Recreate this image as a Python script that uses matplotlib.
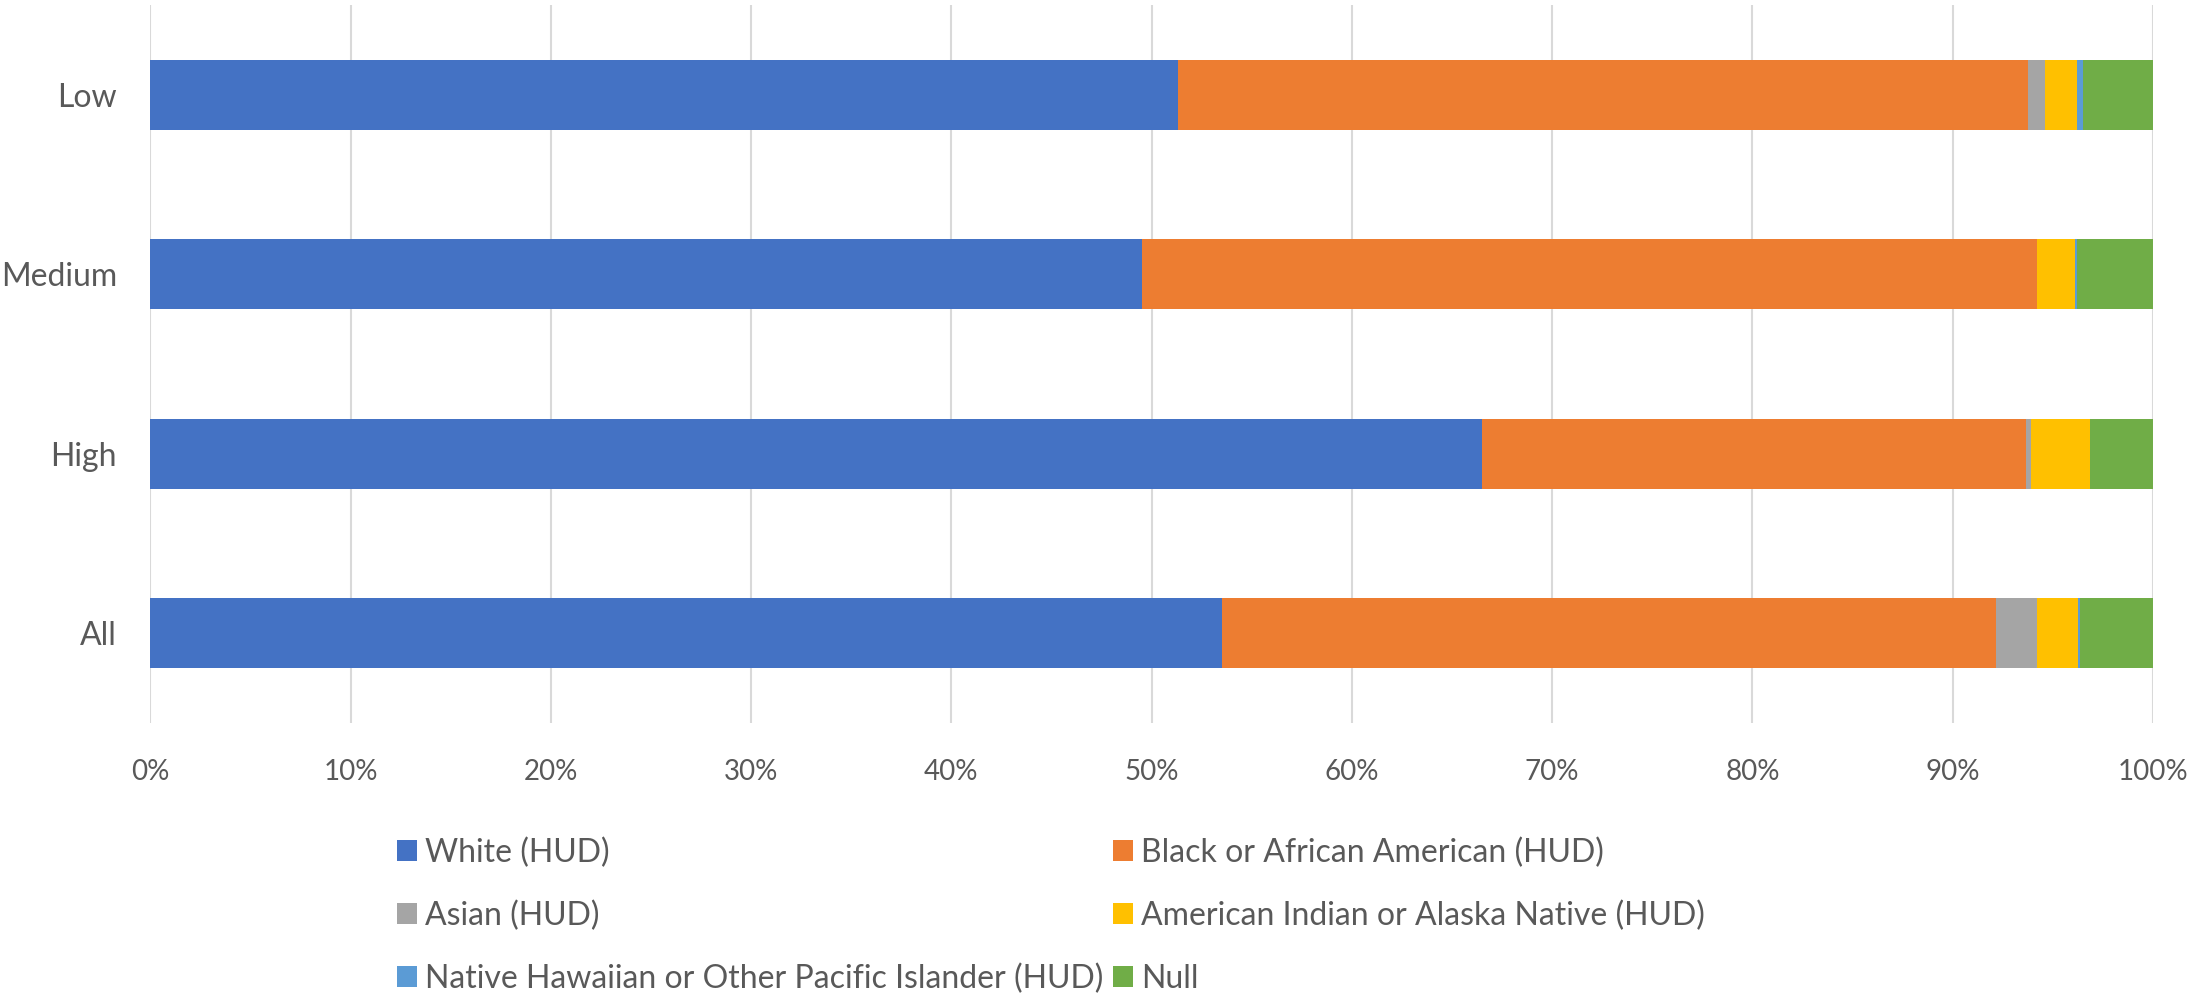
import matplotlib
matplotlib.use("Agg")
import matplotlib.pyplot as plt
from matplotlib.patches import Patch
import numpy as np

categories = ["Low", "Medium", "High", "All"]
series_names = [
    "White (HUD)",
    "Black or African American (HUD)",
    "Asian (HUD)",
    "American Indian or Alaska Native (HUD)",
    "Native Hawaiian or Other Pacific Islander (HUD)",
    "Null",
]
white = [51.3, 49.5, 66.5, 53.5]
black = [42.45, 44.7, 27.15, 38.65]
asian = [0.85, 0.0, 0.25, 2.05]
amind = [1.6, 1.9, 2.95, 2.05]
nhpi = [0.3, 0.1, 0.0, 0.1]
null = [3.5, 3.8, 3.15, 3.65]
xtick_labels = ["0%", "10%", "20%", "30%", "40%", "50%", "60%", "70%", "80%", "90%", "100%"]

colors = ["#4472C4", "#ED7D31", "#A5A5A5", "#FFC000", "#5B9BD5", "#70AD47"]
txt = "#595959"

plt.rcParams["font.family"] = ["Lato", "DejaVu Sans"]

fig = plt.figure(figsize=(22.02, 10.01), dpi=100)
ax = fig.add_axes([0.0683, 0.2777, 0.9094, 0.7173])

series = [white, black, asian, amind, nhpi, null]
y = np.arange(len(categories))
left = np.zeros(len(categories))
handles = []
for vals, name, c in zip(series, series_names, colors):
    v = np.array(vals, dtype=float)
    ax.barh(y, v, left=left, height=0.39, color=c, edgecolor="none", zorder=3)
    left += v
    handles.append(Patch(facecolor=c, edgecolor="none", label=name))

ax.set_xlim(0, 100)
ax.set_ylim(3.5, -0.5)
ax.set_yticks(y)
ax.set_yticklabels(categories)
ax.set_xticks(np.arange(0, 101, 10))
ax.set_xticklabels(xtick_labels)
ax.tick_params(axis="x", length=0, pad=26, labelsize=20, labelcolor=txt)
ax.tick_params(axis="y", length=0, pad=24, labelsize=23, labelcolor=txt)
ax.grid(axis="x", color="#D9D9D9", linewidth=1.5, zorder=0)
for s in ax.spines.values():
    s.set_visible(False)

order = [0, 2, 4, 1, 3, 5]
fig.legend([handles[i] for i in order], [series_names[i] for i in order],
           ncol=2, loc="upper left", bbox_to_anchor=(0.1805, 0.1634),
           frameon=False, fontsize=23, labelcolor=txt,
           handlelength=0.62, handleheight=0.62, handletextpad=0.25,
           labelspacing=1.02, columnspacing=0.3, borderpad=0, borderaxespad=0)

fig.savefig("out.png", dpi=100, facecolor="white")
